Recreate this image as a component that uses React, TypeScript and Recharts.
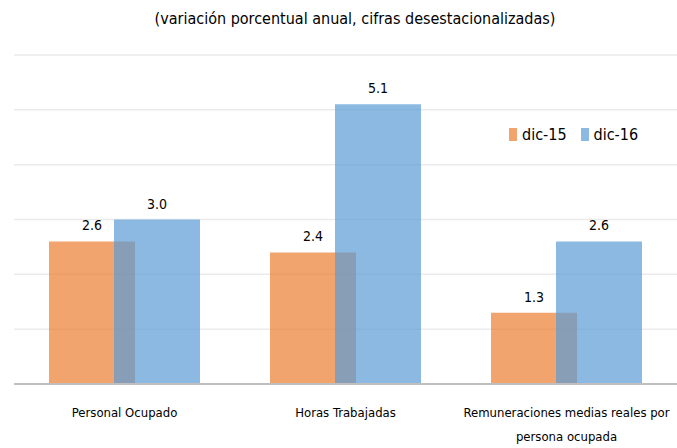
import React from 'react';
import { BarChart, Bar, XAxis, YAxis, CartesianGrid, LabelList } from 'recharts';

const categories = ['Personal Ocupado', 'Horas Trabajadas', 'Remuneraciones medias reales por persona ocupada'];
const dic15 = [2.6, 2.4, 1.3];
const dic16 = [3.0, 5.1, 2.6];
const yTicks = [0, 1, 2, 3, 4, 5, 6];

const FONT = '"DejaVu Sans Condensed", "Liberation Sans", sans-serif';
const ORANGE = '#ED7D31';
const BLUE = '#5B9BD5';

const data = categories.map((name, i) => ({ name, dic15: dic15[i], dic16: dic16[i] }));

// split long category names into lines of ~34 chars
const wrap = (s: string, max = 34) => {
  const words = s.split(' ');
  const lines: string[] = [];
  let cur = '';
  words.forEach((w) => {
    const next = cur ? cur + ' ' + w : w;
    if (next.length > max && cur) {
      lines.push(cur);
      cur = w;
    } else cur = next;
  });
  if (cur) lines.push(cur);
  return lines;
};

const CategoryTick = (props: any) => {
  const { x, y, payload } = props;
  const lines = wrap(payload.value);
  return (
    <g transform={`translate(${x},${y})`}>
      {lines.map((l, i) => (
        <text key={i} x={0} y={0} dy={25 + i * 24} textAnchor="middle" fill="#000" fontSize={13} fontFamily={FONT}>
          {l}
        </text>
      ))}
    </g>
  );
};

const ValueLabel = (props: any) => {
  const { x, y, width, value } = props;
  return (
    <text x={x + width / 2} y={y - 11} textAnchor="middle" fill="#000" fontSize={14} fontFamily={FONT}>
      {Number(value).toFixed(1)}
    </text>
  );
};

export default function App() {
  return (
    <div style={{ position: 'absolute', left: 0, top: 0, width: 677, height: 448, background: '#fff', fontFamily: FONT }}>
      <div style={{ position: 'absolute', top: 9, left: 0, width: 710, textAlign: 'center', fontSize: 16, color: '#000' }}>
        (variación porcentual anual, cifras desestacionalizadas)
      </div>
      <div style={{ position: 'absolute', top: 125, left: 509, display: 'flex', alignItems: 'center', fontSize: 16, color: '#000' }}>
        <span style={{ display: 'inline-block', width: 8, height: 13, background: ORANGE, opacity: 0.7, marginRight: 5 }} />
        <span style={{ marginRight: 14 }}>dic-15</span>
        <span style={{ display: 'inline-block', width: 8, height: 13, background: BLUE, opacity: 0.7, marginRight: 5 }} />
        <span>dic-16</span>
      </div>
      <BarChart
        width={677}
        height={448}
        data={data}
        margin={{ top: 55, right: 0, left: 14, bottom: 0 }}
        barSize={86}
        barGap={-21}
        barCategoryGap={0}
      >
        <CartesianGrid vertical={false} stroke="#ebebeb" strokeWidth={1.5} />
        <YAxis hide domain={[0, 6]} ticks={yTicks} />
        <XAxis
          dataKey="name"
          height={64}
          tick={<CategoryTick />}
          tickLine={false}
          axisLine={{ stroke: '#bfbfbf', strokeWidth: 2 }}
          interval={0}
        />
        <Bar dataKey="dic15" fill={ORANGE} fillOpacity={0.7} isAnimationActive={false}>
          <LabelList dataKey="dic15" content={<ValueLabel />} />
        </Bar>
        <Bar dataKey="dic16" fill={BLUE} fillOpacity={0.7} isAnimationActive={false}>
          <LabelList dataKey="dic16" content={<ValueLabel />} />
        </Bar>
      </BarChart>
    </div>
  );
}
